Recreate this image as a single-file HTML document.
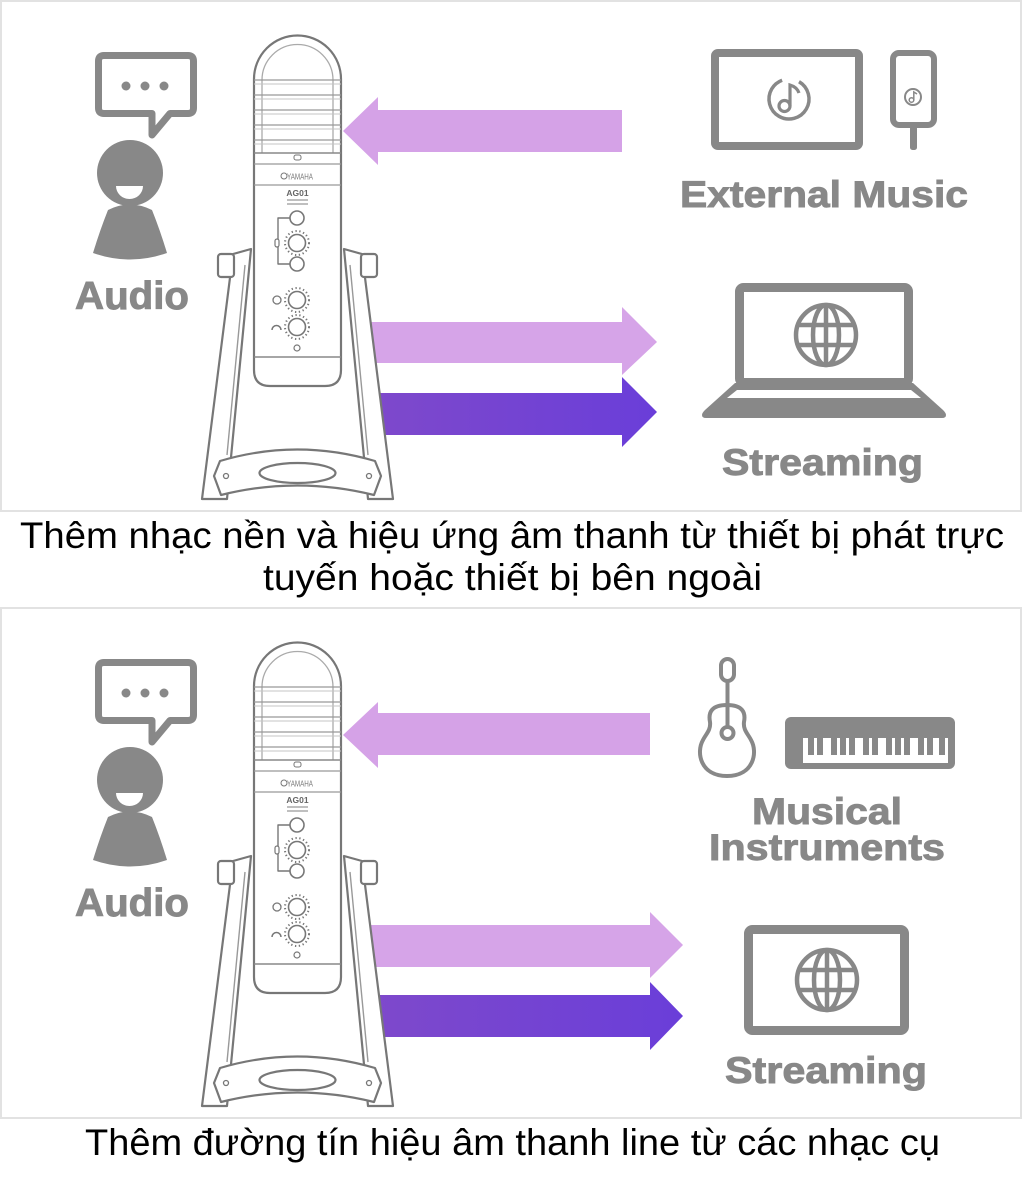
<!DOCTYPE html>
<html>
<head>
<meta charset="utf-8">
<style>
  html,body{margin:0;padding:0;background:#fff;}
  body{width:1024px;height:1185px;overflow:hidden;}
  svg{display:block;}
  .lbl{font-family:"Liberation Sans","DejaVu Sans",sans-serif;font-weight:bold;fill:#888;stroke:#888;stroke-width:0.9px;}
  .cap{font-family:"Liberation Sans","DejaVu Sans",sans-serif;fill:#000;}
</style>
</head>
<body>
<svg width="1024" height="1185" viewBox="0 0 1024 1185" xmlns="http://www.w3.org/2000/svg">
<defs>
  <linearGradient id="dk" x1="0" x2="1" y1="0" y2="0">
    <stop offset="0" stop-color="#7e49cb"/>
    <stop offset="1" stop-color="#6a3ed9"/>
  </linearGradient>
  <g id="globe" fill="none" stroke="#888" stroke-width="4.5">
    <circle r="30"/>
    <ellipse rx="13" ry="30"/>
    <line x1="0" y1="-30" x2="0" y2="30"/>
    <line x1="-28" y1="-10" x2="28" y2="-10"/>
    <line x1="-28" y1="10" x2="28" y2="10"/>
  </g>
  <g id="person">
    <path d="M104,55.5 H188 Q193.5,55.5 193.5,61 V108 Q193.5,113.5 188,113.5 H170 L152,135 V113.5 H104 Q98.5,113.5 98.5,108 V61 Q98.5,55.5 104,55.5 Z" fill="none" stroke="#888" stroke-width="7" stroke-linejoin="round"/>
    <circle cx="126" cy="86" r="4.5" fill="#888"/>
    <circle cx="145" cy="86" r="4.5" fill="#888"/>
    <circle cx="164" cy="86" r="4.5" fill="#888"/>
    <circle cx="130" cy="173" r="33" fill="#888"/>
    <path d="M116,186 H143 A13.5,13 0 0 1 116,186 Z" fill="#fff"/>
    <path d="M108,210 Q130,199 152,210 Q160,230 167,253 Q130,266 93,253 Q100,230 108,210 Z" fill="#888"/>
  </g>
  <g id="mic" fill="#fff" stroke="#777" stroke-width="2.2" stroke-linejoin="round">
    <path d="M233,254 L251,249 L227,499 L202,499 Z"/>
    <line x1="245" y1="265" x2="227" y2="455" stroke="#999" stroke-width="1.4"/>
    <rect x="218" y="254" width="16" height="23" rx="3"/>
    <path d="M362,254 L344,249 L368,499 L393,499 Z"/>
    <line x1="350" y1="265" x2="368" y2="455" stroke="#999" stroke-width="1.4"/>
    <rect x="361" y="254" width="16" height="23" rx="3"/>
    <path d="M220,461 Q297,438 375,461 L381,476 L374,495 Q297,476 221,495 L214,476 Z"/>
    <ellipse cx="297.5" cy="473" rx="38" ry="10"/>
    <circle cx="226" cy="476" r="2.5" stroke-width="1.3"/>
    <circle cx="369" cy="476" r="2.5" stroke-width="1.3"/>
    <path d="M254,370 L254,79 A43.5,43.5 0 0 1 341,79 L341,370 Q341,386 325,386 L270,386 Q254,386 254,370 Z"/>
    <path d="M262,153 L262,80 A35.5,35.5 0 0 1 333,80 L333,153" fill="none" stroke="#aaa" stroke-width="1.3"/>
    <g stroke="#999" stroke-width="1.2">
      <line x1="254" y1="80" x2="341" y2="80"/>
      <line x1="254" y1="95" x2="341" y2="95"/>
      <line x1="254" y1="110" x2="341" y2="110"/>
      <line x1="254" y1="125" x2="341" y2="125"/>
      <line x1="254" y1="140" x2="341" y2="140"/>
    </g>
    <g stroke="#c4c4c4" stroke-width="1">
      <line x1="254" y1="84" x2="341" y2="84"/>
      <line x1="254" y1="99" x2="341" y2="99"/>
      <line x1="254" y1="114" x2="341" y2="114"/>
      <line x1="254" y1="129" x2="341" y2="129"/>
      <line x1="254" y1="144" x2="341" y2="144"/>
    </g>
    <line x1="254" y1="153" x2="341" y2="153" stroke="#888" stroke-width="1.6"/>
    <rect x="294" y="155" width="7" height="5" rx="2" stroke-width="1"/>
    <line x1="254" y1="164" x2="341" y2="164" stroke="#999" stroke-width="1.2"/>
    <line x1="254" y1="185" x2="341" y2="185" stroke="#999" stroke-width="1.2"/>
    <line x1="254" y1="357" x2="341" y2="357" stroke="#888" stroke-width="1.4"/>
    <circle cx="284" cy="176" r="3" stroke-width="1"/>
    <line x1="287" y1="200" x2="308" y2="200" stroke="#999" stroke-width="1.2"/>
    <line x1="287" y1="204" x2="308" y2="204" stroke="#999" stroke-width="1.2"/>
    <path d="M290,218 L278,218 L278,264 L290,264" fill="none" stroke-width="1.4"/>
    <circle cx="297" cy="218" r="7" stroke-width="1.6"/>
    <circle cx="297" cy="243" r="12" fill="none" stroke-width="2" stroke-dasharray="1.3 2.6"/>
    <circle cx="297" cy="243" r="8.5" stroke-width="1.6"/>
    <circle cx="297" cy="264" r="7" stroke-width="1.6"/>
    <rect x="275" y="239" width="4" height="8" rx="2" stroke-width="1.2"/>
    <circle cx="297" cy="300" r="12" fill="none" stroke-width="2" stroke-dasharray="1.3 2.6"/>
    <circle cx="297" cy="300" r="8.5" stroke-width="1.6"/>
    <circle cx="277" cy="300" r="4" stroke-width="1.3"/>
    <circle cx="297" cy="327" r="12" fill="none" stroke-width="2" stroke-dasharray="1.3 2.6"/>
    <circle cx="297" cy="327" r="8.5" stroke-width="1.6"/>
    <path d="M272,330 A4.5,4.5 0 0 1 281,330" fill="none" stroke-width="1.5"/>
    <circle cx="297" cy="348" r="3" stroke-width="1.2"/>
  </g>
  <g id="keys">
    <rect x="785" y="717" width="170" height="52" rx="6" fill="#888"/>
    <rect x="803" y="738" width="145" height="25" fill="#fff"/>
    <g fill="#888">
      <rect x="808" y="738" width="6" height="17"/>
      <rect x="817" y="738" width="6" height="17"/>
      <rect x="831" y="738" width="6" height="17"/>
      <rect x="840" y="738" width="6" height="17"/>
      <rect x="849" y="738" width="6" height="17"/>
      <rect x="863" y="738" width="6" height="17"/>
      <rect x="872" y="738" width="6" height="17"/>
      <rect x="886" y="738" width="6" height="17"/>
      <rect x="895" y="738" width="6" height="17"/>
      <rect x="904" y="738" width="6" height="17"/>
      <rect x="918" y="738" width="6" height="17"/>
      <rect x="927" y="738" width="6" height="17"/>
      <rect x="939" y="738" width="6" height="17"/>
    </g>
  </g>
</defs>

<rect width="1024" height="1185" fill="#fff"/>
<rect x="1" y="1" width="1020" height="510" fill="#fff" stroke="#e2e2e2" stroke-width="2"/>
<rect x="1" y="608" width="1020" height="510" fill="#fff" stroke="#e2e2e2" stroke-width="2"/>

<!-- ===== PANEL 1 ===== -->
<polygon points="343,131 378,97 378,110 622,110 622,152 378,152 378,165" fill="#d5a2e7"/>
<polygon points="355,322 622,322 622,307 657,342 622,375 622,363 355,363" fill="#d6a4e8"/>
<polygon points="376,393 622,393 622,377 657,412 622,447 622,435 376,435" fill="url(#dk)"/>

<use href="#person"/>
<text class="lbl" x="75" y="309" font-size="39" textLength="114" lengthAdjust="spacingAndGlyphs">Audio</text>

<use href="#mic"/>
<text x="300" y="179.5" font-family="Liberation Sans, sans-serif" font-size="8" fill="#777" text-anchor="middle" textLength="26" lengthAdjust="spacingAndGlyphs">YAMAHA</text>
<text x="297.5" y="196" font-family="Liberation Sans, sans-serif" font-size="8.5" font-weight="bold" fill="#666" text-anchor="middle">AG01</text>

<rect x="715" y="53" width="144" height="93" rx="3" fill="none" stroke="#888" stroke-width="8"/>
<circle cx="789" cy="99" r="20" fill="none" stroke="#888" stroke-width="3.5" stroke-dasharray="108 17.7" transform="rotate(-60 789 99)"/>
<circle cx="784.5" cy="106" r="5.5" fill="none" stroke="#888" stroke-width="3.2"/>
<path d="M790,106 V85 Q797,87 799,93" fill="none" stroke="#888" stroke-width="3.2"/>
<rect x="893" y="53" width="41" height="72" rx="6" fill="none" stroke="#888" stroke-width="6"/>
<rect x="910" y="126" width="7" height="24" rx="2.5" fill="#888"/>
<circle cx="913" cy="97" r="8" fill="none" stroke="#888" stroke-width="2"/>
<circle cx="911.5" cy="100" r="2.3" fill="none" stroke="#888" stroke-width="1.5"/>
<path d="M913.8,100 V92 L917,94" fill="none" stroke="#888" stroke-width="1.5"/>
<text class="lbl" x="680" y="207" font-size="37" textLength="288" lengthAdjust="spacingAndGlyphs">External Music</text>

<rect x="739.5" y="287.5" width="169" height="95" rx="4" fill="none" stroke="#888" stroke-width="9"/>
<path d="M735,383 L913,383 L943,410 Q946,413 946,415 Q946,418 942,418 L706,418 Q702,418 702,415 Q702,413 705,410 Z" fill="#888"/>
<polygon points="737,390 911,390 921,398 727,398" fill="#fff"/>
<use href="#globe" transform="translate(826 335)"/>
<text class="lbl" x="722" y="475" font-size="37" textLength="201" lengthAdjust="spacingAndGlyphs">Streaming</text>

<text class="cap" x="20" y="548" font-size="37" textLength="984" lengthAdjust="spacingAndGlyphs">Thêm nhạc nền và hiệu ứng âm thanh từ thiết bị phát trực</text>
<text class="cap" x="263" y="590" font-size="37" textLength="499" lengthAdjust="spacingAndGlyphs">tuyến hoặc thiết bị bên ngoài</text>

<!-- ===== PANEL 2 ===== -->
<polygon points="343,735 378,702 378,713 650,713 650,755 378,755 378,768" fill="#d5a2e7"/>
<polygon points="360,925 650,925 650,912 683,945 650,978 650,967 360,967" fill="#d6a4e8"/>
<polygon points="375,995 650,995 650,982 683,1016 650,1050 650,1037 375,1037" fill="url(#dk)"/>

<use href="#person" transform="translate(0 607)"/>
<text class="lbl" x="75" y="916" font-size="39" textLength="114" lengthAdjust="spacingAndGlyphs">Audio</text>

<use href="#mic" transform="translate(0 607)"/>
<text x="300" y="786.5" font-family="Liberation Sans, sans-serif" font-size="8" fill="#777" text-anchor="middle" textLength="26" lengthAdjust="spacingAndGlyphs">YAMAHA</text>
<text x="297.5" y="803" font-family="Liberation Sans, sans-serif" font-size="8.5" font-weight="bold" fill="#666" text-anchor="middle">AG01</text>

<rect x="721" y="659" width="13" height="22" rx="6.5" fill="none" stroke="#888" stroke-width="4"/>
<line x1="727.5" y1="681" x2="727.5" y2="728" stroke="#888" stroke-width="4"/>
<path d="M727,705 C712,705 708,712 710,722 C711,730 706,734 703,740 C696,752 700,776 727,776 C754,776 758,752 751,740 C748,734 743,730 744,722 C746,712 742,705 727,705 Z" fill="none" stroke="#888" stroke-width="4"/>
<circle cx="727.5" cy="733" r="6" fill="none" stroke="#888" stroke-width="4"/>
<use href="#keys"/>
<text class="lbl" x="752" y="824" font-size="37" textLength="150" lengthAdjust="spacingAndGlyphs">Musical</text>
<text class="lbl" x="709" y="860" font-size="37" textLength="236" lengthAdjust="spacingAndGlyphs">Instruments</text>

<rect x="748.5" y="929.5" width="156" height="101" rx="4" fill="none" stroke="#888" stroke-width="9"/>
<use href="#globe" transform="translate(827 980)"/>
<text class="lbl" x="725" y="1083" font-size="37" textLength="202" lengthAdjust="spacingAndGlyphs">Streaming</text>

<text class="cap" x="85" y="1155" font-size="37" textLength="855" lengthAdjust="spacingAndGlyphs">Thêm đường tín hiệu âm thanh line từ các nhạc cụ</text>
</svg>
</body>
</html>
